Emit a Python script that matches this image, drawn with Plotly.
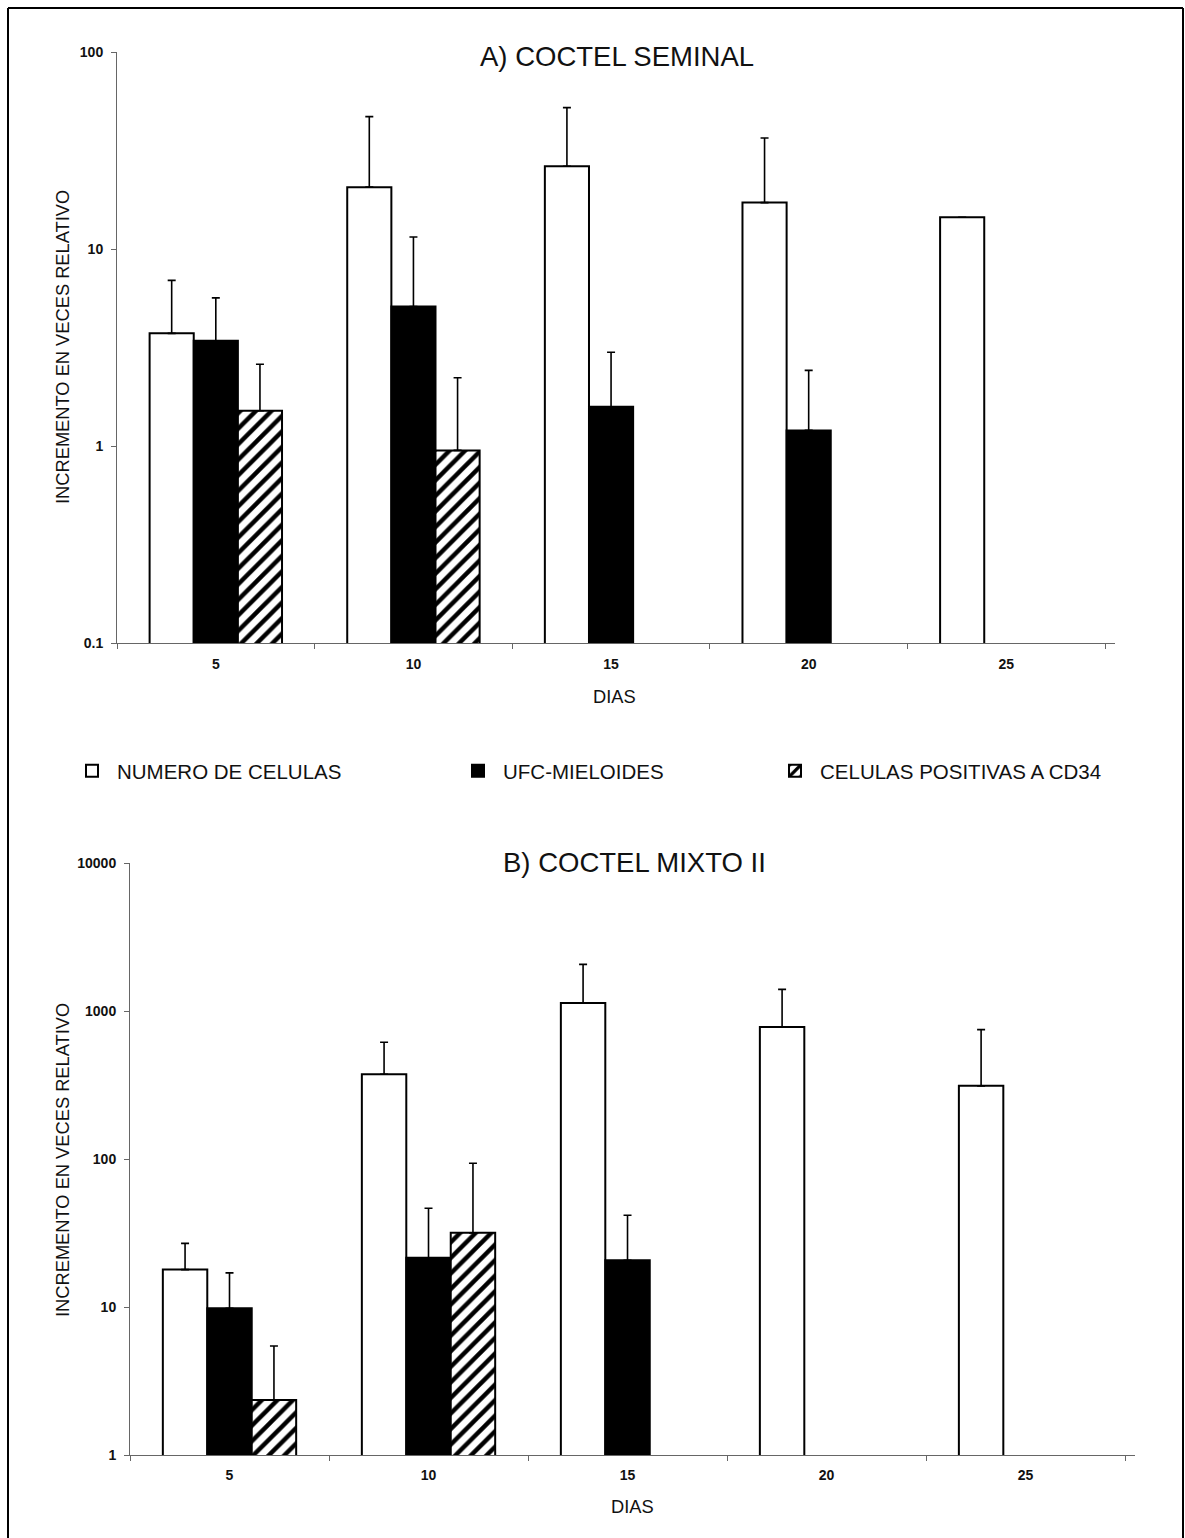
import plotly.graph_objects as go

# ---------------- data ----------------
dias = ["5", "10", "15", "20", "25"]

# A) COCTEL SEMINAL
a_celulas = [3.73, 20.6, 26.3, 17.2, 14.5]
a_celulas_err = [3.2, 26.4, 25.9, 19.4, 0]
a_ufc = [3.42, 5.1, 1.58, 1.2, None]
a_ufc_err = [2.23, 6.4, 1.41, 1.22, 0]
a_cd34 = [1.51, 0.95, None, None, None]
a_cd34_err = [1.09, 1.27, 0, 0, 0]

# B) COCTEL MIXTO II
b_celulas = [17.9, 374, 1132, 780, 312]
b_celulas_err = [9.0, 241, 934, 621, 437]
b_ufc = [9.8, 21.5, 20.7, None, None]
b_ufc_err = [7.2, 25.0, 21.0, 0, 0]
b_cd34 = [2.35, 31.7, None, None, None]
b_cd34_err = [3.1, 62.0, 0, 0, 0]

series_names = ["NUMERO DE CELULAS", "UFC-MIELOIDES", "CELULAS POSITIVAS A CD34"]
y_title = "INCREMENTO EN VECES RELATIVO"
x_title = "DIAS"
titles = ["A) COCTEL SEMINAL", "B) COCTEL MIXTO II"]

FONT = "Liberation Sans, Arial, sans-serif"
W, H = 1185, 1538


def px_x(x):
    return x / W


def px_y(y):
    return 1 - y / H


def err(arr):
    return dict(type="data", symmetric=False, array=arr,
                arrayminus=[0] * len(arr), color="black",
                thickness=1.6, width=4, visible=True)


styles = [
    dict(marker=dict(color="white", line=dict(color="black", width=2))),
    dict(marker=dict(color="black", line=dict(color="black", width=2))),
    dict(marker=dict(color="white", line=dict(color="black", width=2),
                     pattern=dict(shape="/", fgcolor="black", bgcolor="white",
                                  size=11, solidity=0.4, fillmode="replace"))),
]
legend_ids = ["legend", "legend2", "legend3"]

fig = go.Figure()

panels = [
    ("x", "y", [a_celulas, a_ufc, a_cd34], [a_celulas_err, a_ufc_err, a_cd34_err]),
    ("x2", "y2", [b_celulas, b_ufc, b_cd34], [b_celulas_err, b_ufc_err, b_cd34_err]),
]

for pi, (xa, ya, vals, errs) in enumerate(panels):
    for si in range(3):
        fig.add_trace(go.Bar(
            x=dias, y=vals[si], error_y=err(errs[si]),
            name=series_names[si], xaxis=xa, yaxis=ya,
            showlegend=(pi == 0), legend=legend_ids[si],
            **styles[si]))

tickfont = dict(family=FONT, size=14, color="#111", weight="bold")
axis_common = dict(
    showgrid=False, zeroline=False, showline=True, linecolor="#666",
    linewidth=1, ticks="outside", ticklen=5, tickcolor="#666",
    tickfont=tickfont, automargin=False,
)


def legend_at(xpx):
    return dict(orientation="h", x=px_x(xpx), xanchor="left",
                y=px_y(771), yanchor="middle",
                font=dict(family=FONT, size=20.5, color="#111"),
                itemwidth=40, bgcolor="rgba(0,0,0,0)")


title_font = dict(family=FONT, size=27.5, color="#111")
axt_font = dict(family=FONT, size=18.3, color="#111")

fig.update_layout(
    width=W, height=H,
    margin=dict(l=0, r=0, t=0, b=0, autoexpand=False),
    paper_bgcolor="white", plot_bgcolor="white",
    barmode="group", bargap=0.33, bargroupgap=0,
    font=dict(family=FONT, color="#111"),
    xaxis=dict(domain=[px_x(117), px_x(1115)], anchor="y", range=[-0.5, 4.55],
               tickson="boundaries", ticklabelstandoff=8, **axis_common),
    yaxis=dict(domain=[px_y(643), px_y(52)], anchor="x", type="log",
               range=[-1, 2], tickvals=[0.1, 1, 10, 100],
               ticktext=["0.1", "1", "10", "100"], ticklabelstandoff=5,
               **axis_common),
    xaxis2=dict(domain=[px_x(130), px_x(1135)], anchor="y2", range=[-0.5, 4.55],
                tickson="boundaries", ticklabelstandoff=7, **axis_common),
    yaxis2=dict(domain=[px_y(1455), px_y(863)], anchor="x2", type="log",
                range=[0, 4], tickvals=[1, 10, 100, 1000, 10000],
                ticktext=["1", "10", "100", "1000", "10000"], ticklabelstandoff=5,
                **axis_common),
    legend=legend_at(67),
    legend2=legend_at(453),
    legend3=legend_at(770),
    annotations=[
        dict(text=titles[0], x=px_x(617), y=px_y(57), xref="paper", yref="paper",
             xanchor="center", yanchor="middle", showarrow=False, font=title_font),
        dict(text=titles[1], x=px_x(634), y=px_y(862), xref="paper", yref="paper",
             xanchor="center", yanchor="middle", showarrow=False, font=title_font),
        dict(text=y_title, x=px_x(62), y=px_y(347), xref="paper", yref="paper",
             xanchor="center", yanchor="middle", textangle=-90, showarrow=False,
             font=axt_font),
        dict(text=y_title, x=px_x(62), y=px_y(1160), xref="paper", yref="paper",
             xanchor="center", yanchor="middle", textangle=-90, showarrow=False,
             font=axt_font),
        dict(text=x_title, x=px_x(614), y=px_y(696), xref="paper", yref="paper",
             xanchor="center", yanchor="middle", showarrow=False, font=axt_font),
        dict(text=x_title, x=px_x(632), y=px_y(1506), xref="paper", yref="paper",
             xanchor="center", yanchor="middle", showarrow=False, font=axt_font),
    ],
    shapes=[
        dict(type="line", xref="paper", yref="paper", x0=px_x(8), x1=px_x(8),
             y0=0, y1=px_y(8), line=dict(color="black", width=2)),
        dict(type="line", xref="paper", yref="paper", x0=px_x(8), x1=px_x(1183),
             y0=px_y(8), y1=px_y(8), line=dict(color="black", width=2)),
        dict(type="line", xref="paper", yref="paper", x0=px_x(1183), x1=px_x(1183),
             y0=0, y1=px_y(8), line=dict(color="black", width=2)),
    ],
)

fig.write_html("out.html")
